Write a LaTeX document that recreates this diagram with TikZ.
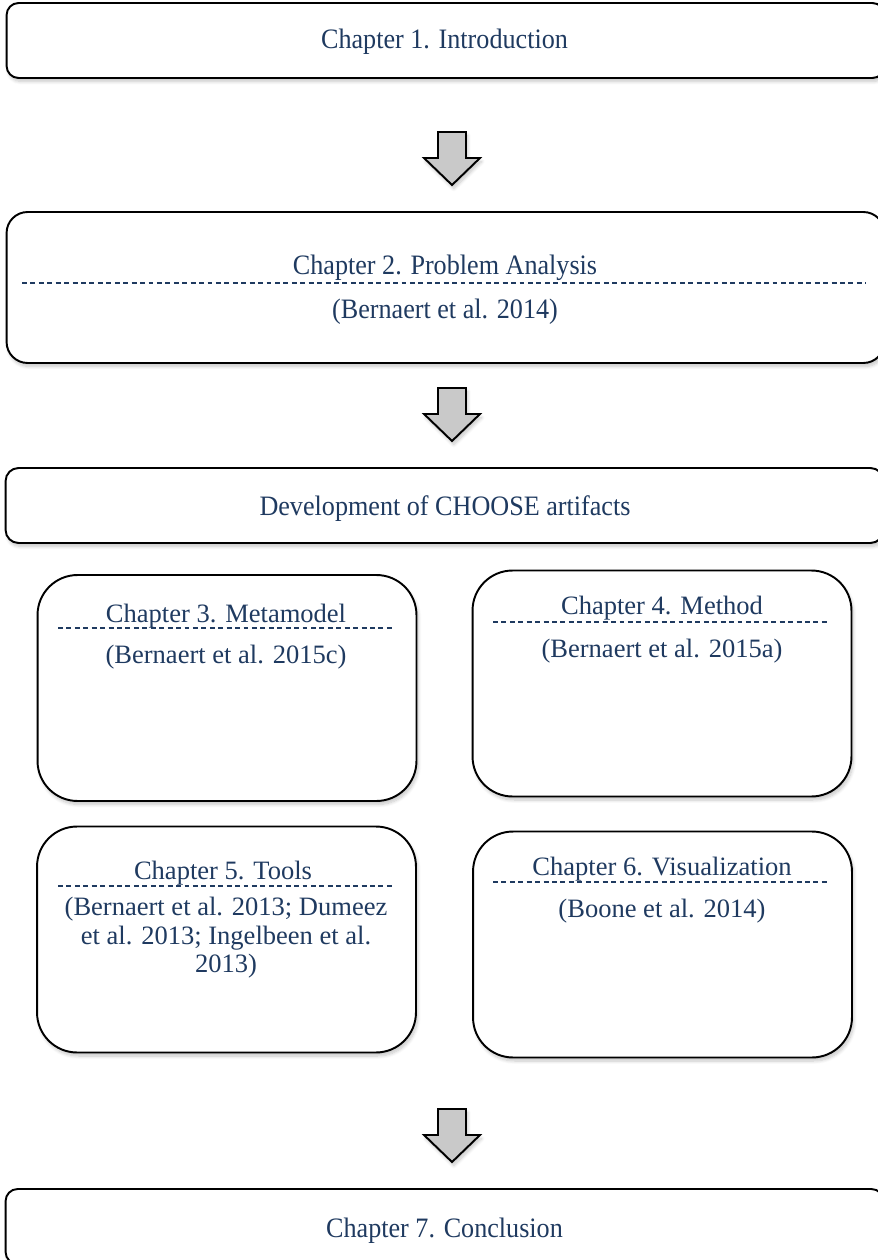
\documentclass[tikz,border=0pt]{standalone}
\usepackage{graphicx}
\usepackage{fontspec}
\setmainfont{Liberation Serif}
\usepackage{xcolor}
\usepackage{tikz}
\usetikzlibrary{shadows.blur}

\definecolor{chapblue}{HTML}{1F3A60}
\definecolor{arrgray}{HTML}{C9C9C9}
\newcommand{\wide}[1]{\scalebox{0.93}[1]{#1}}

\begin{document}
\begin{tikzpicture}[
    x=0.02cm, y=-0.02cm,
    softshadow/.style={blur shadow={shadow xshift=1pt, shadow yshift=-2pt, shadow blur steps=8, shadow opacity=22}},
    widebox/.style={rectangle, draw=black, line width=1.1pt, fill=white, softshadow, minimum width=17.56cm},
    chapbox/.style={rectangle, draw=black, line width=1.1pt, fill=white, softshadow, rounded corners=0.8cm, minimum width=7.58cm, minimum height=4.52cm},
    label/.style={anchor=base, text=chapblue, font=\fontsize{16}{16.2}\selectfont, inner sep=0pt},
    smalllabel/.style={label, font=\fontsize{15.1}{16.2}\selectfont},
    sepline/.style={draw=chapblue, line width=0.8pt, dash pattern=on 2.8pt off 2pt},
    downarr/.style={draw=black, line width=1.1pt, fill=arrgray, line join=miter, softshadow}
]
    \useasboundingbox (0,0) rectangle (878,1260);
    \clip (0,0) rectangle (878,1260);

    % Full width boxes
    \node[widebox, rounded corners=0.24cm, minimum height=1.5cm] (intro) at (445.5,40.5) {};
    \node[widebox, rounded corners=0.42cm, minimum height=3.02cm] (problem) at (445.5,287.5) {};
    \node[widebox, rounded corners=0.26cm, minimum height=1.5cm] (develop) at (444.5,505.5) {};
    \node[widebox, rounded corners=0.24cm, minimum height=1.5cm] (concl) at (444.5,1226.5) {};

    % Artifact boxes
    \node[chapbox] (meta) at (227,688) {};
    \node[chapbox] (method) at (662,683.5) {};
    \node[chapbox] (tools) at (226.5,939.5) {};
    \node[chapbox] (visual) at (662.5,944.5) {};

    % Arrows between the stages
    \foreach \y in {132,388,1109}
        \draw[downarr] (438,\y) -- (466,\y) -- (466,\y+26) -- (480,\y+26)
            -- (452,\y+53) -- (424,\y+26) -- (438,\y+26) -- cycle;

    % Separators
    \draw[sepline] (22,283) -- (866,283);
    \draw[sepline] (58,628) -- (393,628);
    \draw[sepline] (493,622) -- (830,622);
    \draw[sepline] (58,886) -- (393,886);
    \draw[sepline] (493,882) -- (830,882);

    % Labels
    \node[label] (introtxt) at (444.5,49) {\wide{Chapter 1. Introduction}};
    \node[label] (problemtxt) at (445,275) {\wide{Chapter 2. Problem Analysis}};
    \node[label] (problemref) at (445,318) {\wide{(Bernaert et al. 2014)}};
    \node[label] (developtxt) at (445,515) {\wide{Development of CHOOSE artifacts}};
    \node[label] (concltxt) at (444.5,1237) {\wide{Chapter 7. Conclusion}};

    \node[smalllabel] (metatxt) at (226,622) {Chapter 3. Metamodel};
    \node[smalllabel] (metaref) at (226,663) {(Bernaert et al. 2015c)};
    \node[smalllabel] (methodtxt) at (662,614) {Chapter 4. Method};
    \node[smalllabel] (methodref) at (662,657) {(Bernaert et al. 2015a)};
    \node[smalllabel] (toolstxt) at (223,879) {Chapter 5. Tools};
    \node[smalllabel, anchor=center, align=center] (toolsref) at (226,938)
        {(Bernaert et al. 2013; Dumeez\\et al. 2013; Ingelbeen et al.\\2013)};
    \node[smalllabel] (visualtxt) at (662,875) {Chapter 6. Visualization};
    \node[smalllabel] (visualref) at (662,917) {(Boone et al. 2014)};

\end{tikzpicture}
\end{document}
